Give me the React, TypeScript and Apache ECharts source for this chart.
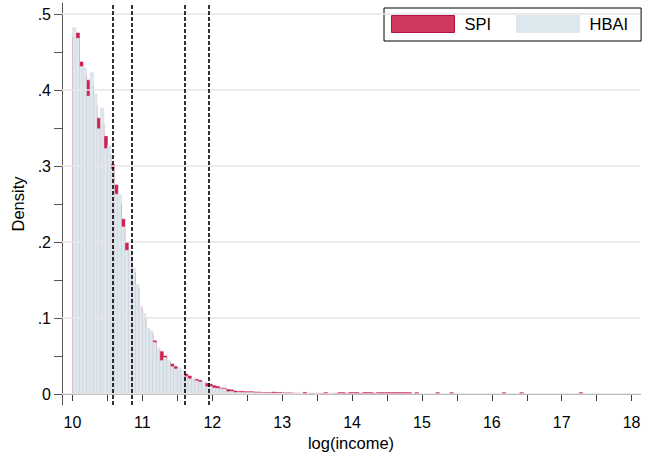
import React, { useEffect, useRef } from "react";
import * as echarts from "echarts";

const BIN_START = 10;
const BIN_WIDTH = 0.05;

// SPI density per 0.05-wide bin, starting at 10.00
const spiDensity = [
  0.470, 0.475, 0.437, 0.420, 0.413, 0.405, 0.380, 0.363, 0.355, 0.339,
  0.315, 0.302, 0.275, 0.250, 0.230, 0.199, 0.180, 0.160, 0.140, 0.112,
  0.100, 0.084, 0.080, 0.070, 0.058, 0.0557, 0.050, 0.042, 0.0395, 0.036,
  0.031, 0.029, 0.0263, 0.0237, 0.019, 0.0193, 0.018, 0.015, 0.014, 0.013,
  0.011, 0.010, 0.008, 0.0075, 0.006, 0.0055, 0.004, 0.0035, 0.0035, 0.003,
  0.003, 0.003, 0.0025, 0.0025, 0.002, 0.002, 0.002, 0.0025, 0.002, 0.002,
  0.0015, 0.0015, 0.0015, 0.001, 0.001, 0.0008, 0.002, 0.0008, 0.0008, 0.0008,
  0.0008, 0.0008, 0.0018, 0.0008, 0.0008, 0.0008, 0.0018, 0.0018, 0.0008, 0.0018,
  0.0018, 0.0018, 0.0008, 0.0018, 0.0018, 0.0018, 0.001, 0.0018, 0.0018, 0.0018,
  0.0018, 0.0018, 0.0018, 0.0018, 0.0018, 0.0018, 0.0018, 0, 0.0018, 0,
  0, 0, 0, 0, 0.0018, 0, 0, 0, 0.0018, 0,
  0, 0, 0, 0, 0, 0, 0, 0, 0, 0,
  0, 0, 0, 0.0018, 0, 0, 0, 0, 0.0018, 0,
  0, 0, 0, 0, 0, 0, 0, 0, 0, 0,
  0, 0, 0, 0, 0, 0.0018,
];

// HBAI density per 0.05-wide bin, starting at 10.00
const hbaiDensity = [
  0.482, 0.468, 0.431, 0.429, 0.392, 0.423, 0.395, 0.349, 0.376, 0.323,
  0.327, 0.296, 0.263, 0.262, 0.220, 0.189, 0.189, 0.166, 0.144, 0.116,
  0.106, 0.087, 0.083, 0.068, 0.061, 0.044, 0.048, 0.044, 0.036, 0.033,
  0.034, 0.031, 0.023, 0.020, 0.020, 0.0175, 0.0158, 0.0158, 0.0096, 0.010,
  0.008, 0.0075, 0.007, 0.0065, 0.003, 0.0035, 0.002, 0.0025, 0.002, 0.002,
  0.002, 0.002, 0.0018, 0.0018, 0.0015, 0.0015, 0.0015, 0.0012, 0.0012, 0.0012,
  0.001, 0.001, 0.001, 0.0008, 0.0008, 0.0008, 0, 0.0008, 0, 0.0008,
  0.0008, 0, 0, 0.0008, 0.0008,
];

const cutoffs = [10.57, 10.85, 11.6, 11.95];
const xTickValues = [10, 10.5, 11, 11.5, 12, 12.5, 13, 13.5, 14, 14.5, 15, 15.5, 16, 16.5, 17, 17.5, 18];
const xLabelValues = [10, 11, 12, 13, 14, 15, 16, 17, 18];
const yTickValues = [0, 0.05, 0.1, 0.15, 0.2, 0.25, 0.3, 0.35, 0.4, 0.45, 0.5];
const yLabelValues = [0, 0.1, 0.2, 0.3, 0.4, 0.5];

const FONT = "Liberation Sans, Arial, sans-serif";
const SPI_FILL = "#d0214f";
const SPI_STROKE = "#c8184a";
const HBAI_FILL = "#dee7ee";
const HBAI_STROKE = "#d3dee7";

function toBins(values: number[]) {
  return values.map((d, i) => [BIN_START + i * BIN_WIDTH, BIN_START + (i + 1) * BIN_WIDTH, d]);
}

function makeRender(fill: string, stroke: string) {
  return (params: any, api: any) => {
    const x0 = api.value(0);
    const x1 = api.value(1);
    const h = api.value(2);
    if (!(h > 0)) return null;
    const p0 = api.coord([x0, h]);
    const p1 = api.coord([x1, 0]);
    return {
      type: "rect",
      shape: { x: p0[0], y: p0[1], width: p1[0] - p0[0], height: p1[1] - p0[1] },
      style: { fill, stroke, lineWidth: 0.5 },
    };
  };
}

export default function App() {
  const ref = useRef<HTMLDivElement>(null);
  useEffect(() => {
    if (!ref.current) return;
    const chart = echarts.init(ref.current, null, { renderer: "svg" });
    const option: any = {
      animation: false,
      backgroundColor: "#ffffff",
      textStyle: { fontFamily: FONT },
      grid: { left: 62, right: 5, top: 3, bottom: 53, containLabel: false },
      legend: {
        left: 384,
        top: 8,
        padding: [7, 13, 8, 7],
        itemWidth: 63,
        itemHeight: 17,
        itemGap: 25,
        icon: "rect",
        borderColor: "#000",
        borderWidth: 1,
        backgroundColor: "#fff",
        textStyle: { fontSize: 16.5, color: "#000", fontFamily: FONT, padding: [0, 0, 0, 5] },
        data: [
          { name: "SPI", itemStyle: { color: "#cf3a5e", borderColor: "#b8103d", borderWidth: 1 } },
          { name: "HBAI", itemStyle: { color: "#dde7ee", borderColor: "#dde7ee", borderWidth: 1 } },
        ],
      },
      xAxis: {
        type: "value",
        min: 9.85,
        max: 18.12,
        name: "log(income)",
        nameLocation: "middle",
        nameGap: 28,
        nameTextStyle: { fontSize: 16.5, color: "#000", fontFamily: FONT },
        axisLine: { show: true, lineStyle: { color: "#3c3c3c", width: 1 } },
        axisTick: { show: true, customValues: xTickValues, length: 7, lineStyle: { color: "#3c3c3c" } },
        axisLabel: { customValues: xLabelValues, margin: 9, fontSize: 16, color: "#000", fontFamily: FONT },
        splitLine: { show: false },
      },
      yAxis: {
        type: "value",
        min: -0.01447,
        max: 0.5145,
        name: "Density",
        nameLocation: "middle",
        nameGap: 33,
        nameRotate: 90,
        nameTextStyle: { fontSize: 16.5, color: "#000", fontFamily: FONT },
        axisLine: { show: true, lineStyle: { color: "#555", width: 1 } },
        axisTick: { show: true, customValues: yTickValues, length: 8, lineStyle: { color: "#555" } },
        axisLabel: {
          customValues: yLabelValues,
          margin: 11,
          fontSize: 16,
          color: "#000",
          fontFamily: FONT,
          formatter: (v: number) => (v === 0 ? "0" : v.toFixed(1).replace(/^0/, "")),
        },
        splitLine: { show: false },
      },
      series: [
        {
          type: "line",
          data: [],
          silent: true,
          z: 0,
          markLine: {
            silent: true,
            symbol: "none",
            label: { show: false },
            lineStyle: { color: "#e4e4e4", width: 1.6, type: "solid" },
            data: yLabelValues.map((v) => ({ yAxis: v })),
          },
        },
        {
          name: "SPI",
          type: "custom",
          z: 2,
          renderItem: makeRender(SPI_FILL, SPI_STROKE),
          itemStyle: { color: SPI_FILL },
          encode: { x: [0, 1], y: 2 },
          data: toBins(spiDensity),
        },
        {
          name: "HBAI",
          type: "custom",
          z: 3,
          renderItem: makeRender(HBAI_FILL, HBAI_STROKE),
          itemStyle: { color: HBAI_FILL },
          encode: { x: [0, 1], y: 2 },
          data: toBins(hbaiDensity),
        },
        {
          type: "line",
          data: [],
          silent: true,
          z: 5,
          markLine: {
            silent: true,
            symbol: "none",
            label: { show: false },
            lineStyle: { color: "#000", width: 1.6, type: [4, 2] },
            data: cutoffs.map((v) => ({ xAxis: v })),
          },
        },
      ],
    };
    chart.setOption(option);
    return () => chart.dispose();
  }, []);
  return (
    <div
      ref={ref}
      style={{ position: "fixed", left: 0, top: 0, width: 645, height: 458, background: "#fff" }}
    />
  );
}
